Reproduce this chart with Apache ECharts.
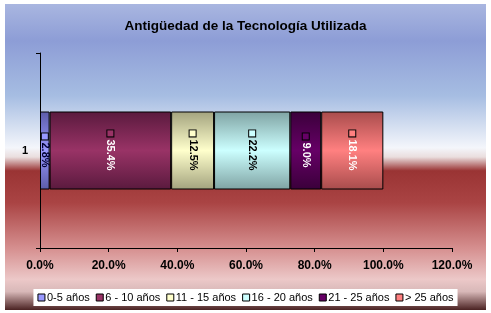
<!DOCTYPE html>
<html><head><meta charset="utf-8">
<script src="https://cdn.jsdelivr.net/npm/echarts@6/dist/echarts.min.js"></script>
<style>html,body{margin:0;padding:0;background:#fff;}#c{width:491px;height:313px;}</style>
</head><body><div id="c"></div>
<script>
const categories = ['1'];
const seriesNames = ['0-5 años', '6 - 10 años', '11 - 15 años', '16 - 20 años', '21 - 25 años', '> 25 años'];
const seriesValues = [2.8, 35.4, 12.5, 22.2, 9.0, 18.1];
const xTicks = [0, 20, 40, 60, 80, 100, 120];
const titleText = 'Antigüedad de la Tecnología Utilizada';

const baseColors = ['#9999ff', '#993366', '#ffffcc', '#ccffff', '#660066', '#ff8080'];
const darkColors = ['#5c5ca8', '#5a1a3e', '#a3a37e', '#7fa3a3', '#3a003a', '#a84c4c'];
const labelColors = ['#000033', '#ffffff', '#000000', '#000000', '#ffffff', '#ffffff'];

function grad(i) {
  return new echarts.graphic.LinearGradient(0, 0, 0, 1, [
    {offset: 0, color: darkColors[i]},
    {offset: 0.5, color: baseColors[i]},
    {offset: 1, color: darkColors[i]}
  ]);
}

const chart = echarts.init(document.getElementById('c'), null, {renderer: 'canvas'});
const series = seriesNames.map((name, i) => ({
  name: name,
  type: 'bar',
  stack: 'total',
  barWidth: '40%',
  data: [seriesValues[i]],
  itemStyle: {color: grad(i), borderColor: '#000', borderWidth: 1},
  label: {
    show: true,
    position: 'inside',
    rotate: -90,
    formatter: p => '{sq|}{v| ' + p.value.toFixed(1) + '%}',
    rich: {
      sq: {width: 6, height: 6, backgroundColor: baseColors[i], borderColor: '#000', borderWidth: 1},
      v: {color: labelColors[i], fontSize: 11, fontFamily: 'Arial, Liberation Sans', fontWeight: 'bold'}
    }
  }
}));

chart.setOption({
  animation: false,
  graphic: [{
    type: 'rect', z: -10, silent: true,
    shape: {x: 5, y: 4, width: 481, height: 306},
    style: {fill: new echarts.graphic.LinearGradient(0, 0, 0, 1, [
      {offset: 0, color: '#a9b6e0'},
      {offset: 0.12, color: '#8d9dd6'},
      {offset: 0.3, color: '#a6bde2'},
      {offset: 0.47, color: '#f4f6fb'},
      {offset: 0.5, color: '#eadede'},
      {offset: 0.545, color: '#9a3434'},
      {offset: 0.65, color: '#aa4444'},
      {offset: 0.8, color: '#d69090'},
      {offset: 0.9, color: '#ecc8c8'},
      {offset: 0.94, color: '#d8b8b8'},
      {offset: 1, color: '#4a2222'}
    ])}
  }],
  title: {
    text: titleText, left: 'center', top: 14,
    textStyle: {fontFamily: 'Arial, Liberation Sans', fontWeight: 'bold', fontSize: 13.5, color: '#000'}
  },
  legend: {
    bottom: 7, left: 'center',
    backgroundColor: '#fff',
    padding: [3, 4, 3, 4],
    itemGap: 6,
    itemWidth: 7, itemHeight: 7,
    icon: 'rect',
    data: seriesNames.map((n, i) => ({name: n, itemStyle: {color: baseColors[i], borderColor: '#000', borderWidth: 1}})),
    textStyle: {fontFamily: 'Arial, Liberation Sans', fontSize: 11, color: '#000', padding: [0, 0, 0, -3]}
  },
  grid: {left: 40, right: 39, top: 53, bottom: 65, containLabel: false},
  xAxis: {
    type: 'value', min: 0, max: 120, interval: 20,
    axisLine: {show: true, lineStyle: {color: '#000'}},
    axisTick: {show: true, length: 4, lineStyle: {color: '#000'}},
    splitLine: {show: false},
    axisLabel: {
      margin: 12,
      formatter: v => v.toFixed(1) + '%',
      fontFamily: 'Arial, Liberation Sans', fontWeight: 'bold', fontSize: 12, color: '#000'
    }
  },
  yAxis: {
    type: 'category', data: categories,
    axisLine: {show: true, lineStyle: {color: '#000'}},
    axisTick: {show: true, length: 4, lineStyle: {color: '#000'}},
    axisLabel: {margin: 12, fontFamily: 'Arial, Liberation Sans', fontWeight: 'bold', fontSize: 11, color: '#000'}
  },
  series: series
});
</script></body></html>
